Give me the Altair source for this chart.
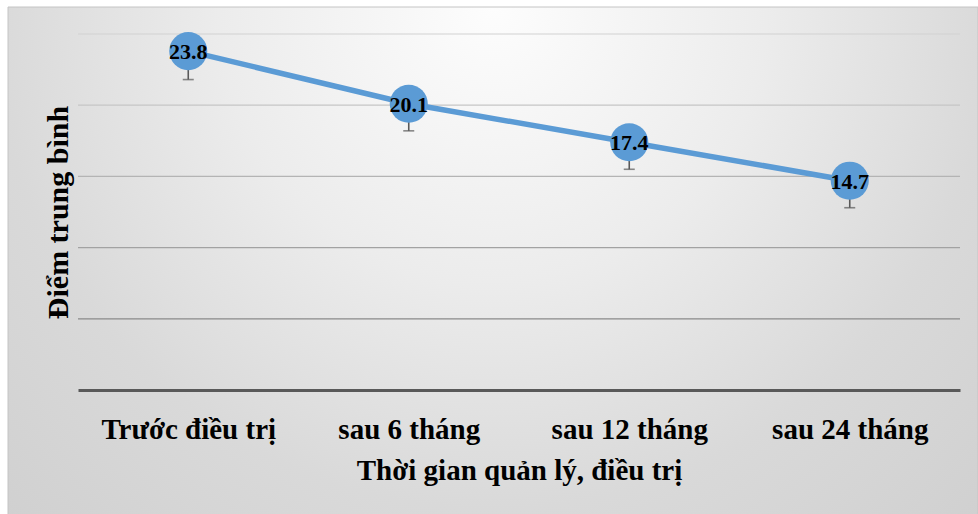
import altair as alt
import pandas as pd

# Mean score at each follow-up point, with the lower end of its error bar
periods = ["Trước điều trị", "sau 6 tháng", "sau 12 tháng", "sau 24 tháng"]
mean_scores = [23.8, 20.1, 17.4, 14.7]
lower_bounds = [21.8, 18.2, 15.5, 12.8]

# Horizontal reference lines
grid_levels = [5, 10, 15, 20, 25]
grid_colors = ["#8a8a8a", "#a2a2a2", "#b4b4b4", "#c6c6c6", "#d2d2d2"]

df = pd.DataFrame({"period": periods, "score": mean_scores, "low": lower_bounds})
grid_df = pd.DataFrame({"level": grid_levels})

W, H = 882, 356
FONT = "Liberation Serif"
BLUE = "#5B9BD5"
DARK = "#595959"

y_scale = alt.Scale(domain=[0, 25], nice=False, zero=True)

x_axis = alt.Axis(
    title="Thời gian quản lý, điều trị",
    titleFont=FONT, titleFontSize=29, titleFontWeight="bold", titleColor="black",
    titleY=89, titleBaseline="alphabetic", titleLimit=900,
    labelFont=FONT, labelFontSize=29, labelFontWeight="bold", labelColor="black",
    labelBaseline="alphabetic", labelPadding=48, labelAngle=0, labelLimit=400,
    ticks=False, tickSize=0, grid=False,
    domainColor=DARK, domainWidth=3, zindex=1,
)
y_axis = alt.Axis(
    title="Điểm trung bình",
    titleFont=FONT, titleFontSize=30, titleFontWeight="bold", titleColor="black",
    titleAngle=270, titleX=-11, titleY=H / 2, titleAlign="center",
    titleBaseline="alphabetic", titleLimit=600,
    labels=False, ticks=False, domain=False, grid=False, zindex=1,
)

x_enc = alt.X("period:N", sort=periods, scale=alt.Scale(type="point", padding=0.5), axis=x_axis)

# Soft radial backdrop behind the whole figure
backdrop = alt.Chart(alt.Data(values=[{}])).mark_rect(
    fill=alt.RadialGradient(
        gradient="radial",
        stops=[
            alt.GradientStop(offset=0.0, color="#fdfdfd"),
            alt.GradientStop(offset=0.3, color="#ececec"),
            alt.GradientStop(offset=0.55, color="#d9d9d9"),
            alt.GradientStop(offset=0.85, color="#cdcdcd"),
            alt.GradientStop(offset=1.0, color="#c4c4c4"),
        ],
        x1=0.5, y1=0.0, r1=0, x2=0.5, y2=0.0, r2=0.6,
    ),
    stroke="#c4c4c4", strokeWidth=1,
).encode(
    x=alt.value(-70), x2=alt.value(900),
    y=alt.value(-27), y2=alt.value(-27 + 3 * 507),
)

grid = alt.Chart(grid_df).mark_rule(strokeWidth=1.2).encode(
    y=alt.Y("level:Q", scale=y_scale, axis=y_axis),
    x=alt.value(0), x2=alt.value(W),
    color=alt.Color("level:O", scale=alt.Scale(domain=grid_levels, range=grid_colors), legend=None),
)

base = alt.Chart(df).encode(x=x_enc)

err_rule = base.mark_rule(color=DARK, strokeWidth=1.6).encode(
    y=alt.Y("score:Q", scale=y_scale, axis=y_axis),
    y2="low:Q",
)
err_cap = base.mark_tick(color=DARK, thickness=1.6, size=11).encode(
    y=alt.Y("low:Q", scale=y_scale, axis=y_axis),
)
line = base.mark_line(color=BLUE, strokeWidth=5.5).encode(
    y=alt.Y("score:Q", scale=y_scale, axis=y_axis),
)
points = base.mark_circle(size=1450, color=BLUE, opacity=1).encode(
    y=alt.Y("score:Q", scale=y_scale, axis=y_axis),
)
labels = base.mark_text(
    font=FONT, fontSize=22, fontWeight="bold", color="black",
    align="center", baseline="middle", dy=1,
).encode(
    y=alt.Y("score:Q", scale=y_scale, axis=y_axis),
    text=alt.Text("score:Q", format=".1f"),
)

chart = alt.layer(backdrop, grid, err_rule, err_cap, line, points, labels).properties(
    width=W, height=H,
    autosize=alt.AutoSizeParams(type="none"),
    padding={"left": 78, "top": 34, "right": 18, "bottom": 124},
    background="white",
).configure_view(stroke=None)

chart.save("out.html", embed_options={"renderer": "svg", "actions": False})
